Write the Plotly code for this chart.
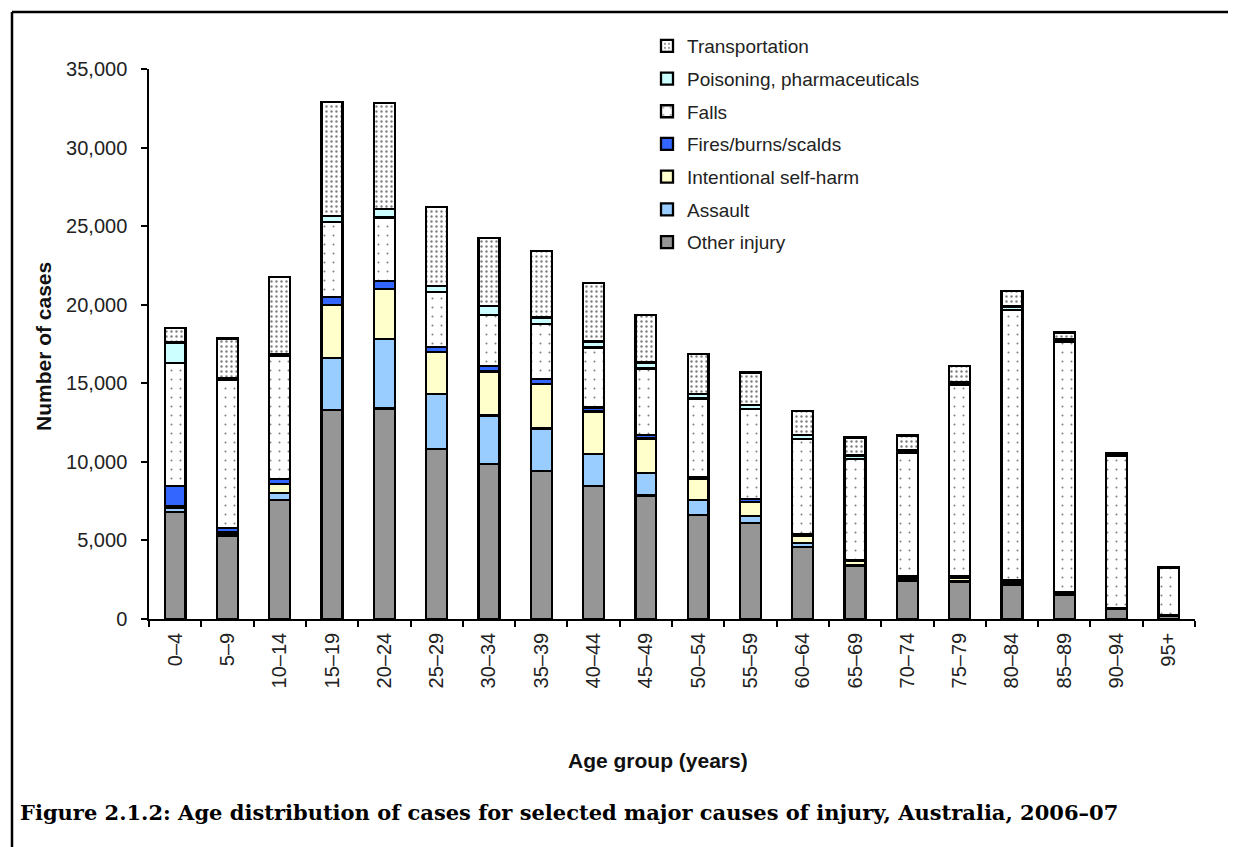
import plotly.graph_objects as go

ages = ["0–4", "5–9", "10–14", "15–19", "20–24", "25–29", "30–34", "35–39", "40–44", "45–49",
        "50–54", "55–59", "60–64", "65–69", "70–74", "75–79", "80–84", "85–89", "90–94", "95+"]

other = [6800, 5300, 7570, 13300, 13400, 10800, 9850, 9420, 8480, 7850,
         6620, 6090, 4600, 3370, 2420, 2380, 2160, 1530, 620, 200]
assault = [250, 150, 430, 3300, 4400, 3500, 3100, 2700, 2020, 1420,
           950, 460, 250, 60, 60, 60, 70, 40, 20, 5]
selfharm = [150, 50, 600, 3400, 3200, 2700, 2800, 2820, 2700, 2210,
            1380, 880, 420, 250, 150, 200, 100, 60, 30, 5]
fires = [1250, 300, 300, 500, 500, 300, 350, 320, 250, 230,
         100, 200, 100, 80, 100, 80, 150, 80, 40, 10]
falls = [7820, 9450, 7850, 4750, 4050, 3500, 3250, 3530, 3820, 4240,
         4980, 5720, 6100, 6430, 7850, 12200, 17200, 15950, 9650, 3020]
poisoning = [1330, 100, 100, 400, 550, 400, 550, 390, 380, 370,
             280, 280, 230, 210, 150, 150, 200, 150, 100, 30]
transport = [920, 2500, 4900, 7250, 6750, 5000, 4350, 4250, 3710, 3030,
             2540, 2060, 1550, 1150, 950, 1050, 1000, 430, 120, 20]

series = [
    ("Other injury", other, "#969696", None),
    ("Assault", assault, "#99CCFF", None),
    ("Intentional self-harm", selfharm, "#FFFFCC", None),
    ("Fires/burns/scalds", fires, "#3366FF", None),
    ("Falls", falls, "white", dict(shape=".", fgcolor="black", bgcolor="white", size=9, solidity=0.04)),
    ("Poisoning, pharmaceuticals", poisoning, "#CCFFFF", None),
    ("Transportation", transport, "white", dict(shape=".", fgcolor="black", bgcolor="white", size=5, solidity=0.18)),
]

FONT = "Liberation Sans, Arial, sans-serif"

fig = go.Figure()
n = len(series)
for i, (name, vals, col, pat) in enumerate(series):
    marker = dict(color=col, line=dict(color="black", width=2.3))
    if pat:
        marker["pattern"] = pat
    fig.add_trace(go.Bar(x=ages, y=vals, name=name, marker=marker,
                         legendgroup=str(i), legendrank=(n - i) * 10))

# page offset (body margin) of the rendered html
OFF = 8
W, H = 1236, 847
# target screen positions of plot area
SX0, SX1, SY0, SY1 = 149, 1195, 69, 619
L = SX0 - OFF
T = SY0 - OFF
R = W - (SX1 - OFF)
B = H - (SY1 - OFF)
pw, ph = W - L - R, H - T - B

def px(x):
    return (x - OFF - L) / pw

def py(y):
    return (H - B - (y - OFF)) / ph

fig.update_layout(
    width=W, height=H,
    margin=dict(l=L, r=R, t=T, b=B, autoexpand=False),
    barmode="stack", bargap=0.6,
    paper_bgcolor="white", plot_bgcolor="white",
    font=dict(family=FONT, size=20, color="#222"),
    showlegend=True,
    legend=dict(traceorder="grouped", x=px(647), y=py(27), xanchor="left", yanchor="top",
                bgcolor="rgba(0,0,0,0)", borderwidth=0, tracegroupgap=5,
                font=dict(family=FONT, size=19, color="#222")),
    xaxis=dict(type="category", range=[-0.5, 19.5], showline=True, linecolor="black", linewidth=1.5,
               ticks="outside", tickson="boundaries", ticklen=6, tickcolor="black", tickwidth=1.5,
               tickangle=-90, showgrid=False, tickfont=dict(size=20), ticklabelstandoff=4),
    yaxis=dict(range=[0, 35000], dtick=5000, tickformat=",", showline=True, linecolor="black",
               linewidth=1.5, ticks="outside", ticklen=6, tickcolor="black", tickwidth=1.5,
               showgrid=False, zeroline=False, tickfont=dict(size=20), ticklabelstandoff=10),
    annotations=[
        dict(text="<b>Age group (years)</b>", x=px(658), y=py(760), xref="paper", yref="paper",
             showarrow=False, xanchor="center", yanchor="middle", font=dict(size=21, color="#111")),
        dict(text="<b>Number of cases</b>", x=px(44), y=py(347), xref="paper", yref="paper",
             showarrow=False, textangle=-90, xanchor="center", yanchor="middle",
             font=dict(size=21, color="#111")),
        dict(text="<b>Figure 2.1.2: Age distribution of cases for selected major causes of injury, Australia, 2006–07</b>",
             x=px(18), y=py(812), xref="paper", yref="paper", showarrow=False,
             xanchor="left", yanchor="middle",
             font=dict(family="DejaVu Serif, serif", size=21, color="black")),
    ],
    shapes=[
        dict(type="line", xref="paper", yref="paper", x0=px(12), x1=px(12), y0=py(12), y1=py(870),
             line=dict(color="black", width=2.5)),
        dict(type="line", xref="paper", yref="paper", x0=px(12), x1=px(1260), y0=py(12), y1=py(12),
             line=dict(color="black", width=2.5)),
    ],
)

fig.write_html("out.html")
